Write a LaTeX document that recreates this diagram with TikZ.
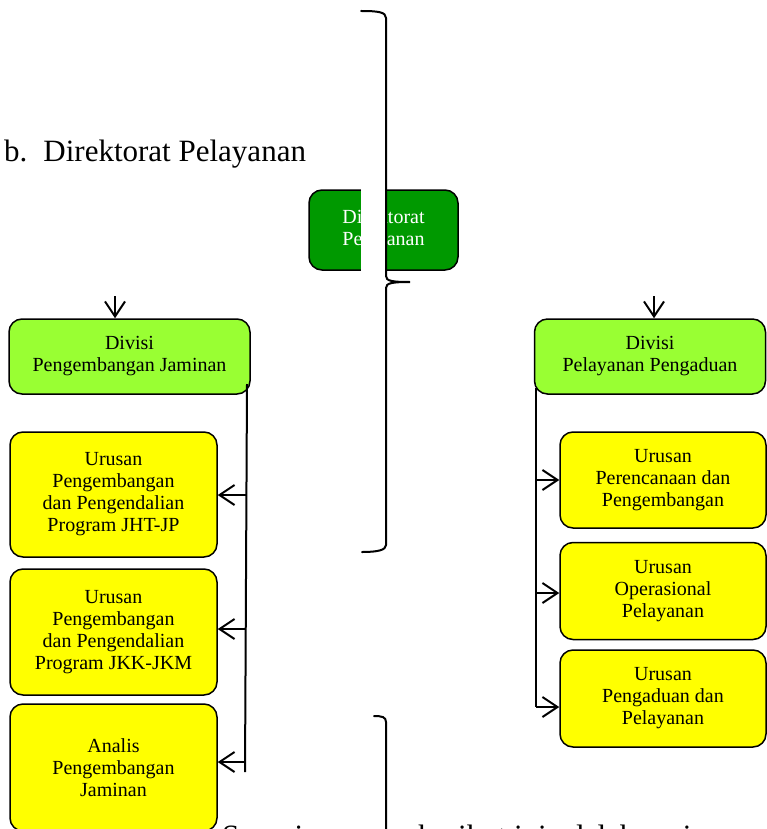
\documentclass[tikz,border=0pt]{standalone}
\usepackage{fontspec}
\setmainfont{Liberation Serif}
\usetikzlibrary{arrows.meta}

\definecolor{dirgreen}{HTML}{009900}
\definecolor{divgreen}{HTML}{99FF33}
\definecolor{unityellow}{HTML}{FFFF00}

\tikzset{
  orgbox/.style={draw=black, line width=1.5pt, rounded corners=13pt, align=center,
    inner sep=0pt, font=\fontsize{20}{22}\selectfont},
  dirbox/.style={orgbox, fill=dirgreen, text=white},
  divbox/.style={orgbox, fill=divgreen, minimum height=75pt},
  unitbox/.style={orgbox, fill=unityellow},
  link/.style={line width=2pt},
  arr/.style={link, -{Straight Barb[length=15pt,width=20pt,line width=2pt]}},
  bracket/.style={line width=2pt, line cap=round},
  bigtext/.style={inner sep=0pt, anchor=base west, font=\fontsize{31}{36}\selectfont}
}

\begin{document}
\begin{tikzpicture}[x=1pt, y=-1pt]
\useasboundingbox (0,0) rectangle (766,829);
\fill[white] (0,0) rectangle (766,829);

% heading
\node[bigtext] (heading) at (4,162) {b.\hspace{16pt}Direktorat Pelayanan};

% directorate
\node[dirbox, minimum width=149pt, minimum height=80pt] (dir) at (383.5,230)
  {Direktorat\\Pelayanan};

% upper brace, filled white behind
\fill[white] (361,11) rectangle (386,552);
\draw[bracket] (361,11) .. controls (378,11) and (386,12) .. (386,18)
  -- (386,276) .. controls (386,281) and (392,282) .. (410,282)
  .. controls (392,282) and (386,283) .. (386,288)
  -- (386,545) .. controls (386,550) and (378,552) .. (362,552);

% divisions
\node[divbox, minimum width=241pt] (divL) at (129.5,356.5)
  {Divisi\\Pengembangan Jaminan};
\node[divbox, minimum width=231pt] (divR) at (650,356.5)
  {Divisi\\Pelayanan Pengaduan};

\coordinate (inL) at (115,296);
\coordinate (inR) at (654,296);
\draw[arr] (inL) -- (inL |- divL.north);
\draw[arr] (inR) -- (inR |- divR.north);

% units of the left division
\node[unitbox, minimum width=207pt, minimum height=125pt] (uL1) at (113.5,494.5)
  {Urusan\\Pengembangan\\dan Pengendalian\\Program JHT-JP};
\node[unitbox, minimum width=207pt, minimum height=126pt] (uL2) at (113.5,632)
  {Urusan\\Pengembangan\\dan Pengendalian\\Program JKK-JKM};
\node[unitbox, minimum width=207pt, minimum height=127pt] (uL3) at (113.5,767.5)
  {Analis\\Pengembangan\\Jaminan};

\coordinate (trunkLtop) at (247,384);
\coordinate (trunkLbot) at (245,772);
\draw[link] (trunkLtop) -- (trunkLbot);
\draw[arr] (246,495) -- (uL1.east |- 0,495);
\draw[arr] (246,629) -- (uL2.east |- 0,629);
\draw[arr] (245,762) -- (uL3.east |- 0,762);

% units of the right division
\node[unitbox, minimum width=206pt, minimum height=96pt] (uR1) at (663,480)
  {Urusan\\Perencanaan dan\\Pengembangan};
\node[unitbox, minimum width=206pt, minimum height=97pt] (uR2) at (663,591)
  {Urusan\\Operasional\\Pelayanan};
\node[unitbox, minimum width=206pt, minimum height=97pt] (uR3) at (663,698.5)
  {Urusan\\Pengaduan dan\\Pelayanan};

\coordinate (trunkRtop) at (536,388);
\coordinate (trunkRbot) at (536,707);
\draw[link] (trunkRtop) -- (trunkRbot);
\draw[arr] (536,480) -- (uR1.west |- 0,480);
\draw[arr] (536,593) -- (uR2.west |- 0,593);
\draw[arr] (trunkRbot) -- (uR3.west |- trunkRbot);

% running text below, only its upper part falls on the page
\node[bigtext] (body) at (222,846)
  {Sesuai susunan berikut ini adalah uraian masing-masing bidang};

% lower brace, filled white behind
\fill[white] (374,716) rectangle (386,840);
\draw[bracket] (374,716) .. controls (382,716) and (386,717) .. (386,722) -- (386,840);
\end{tikzpicture}
\end{document}
